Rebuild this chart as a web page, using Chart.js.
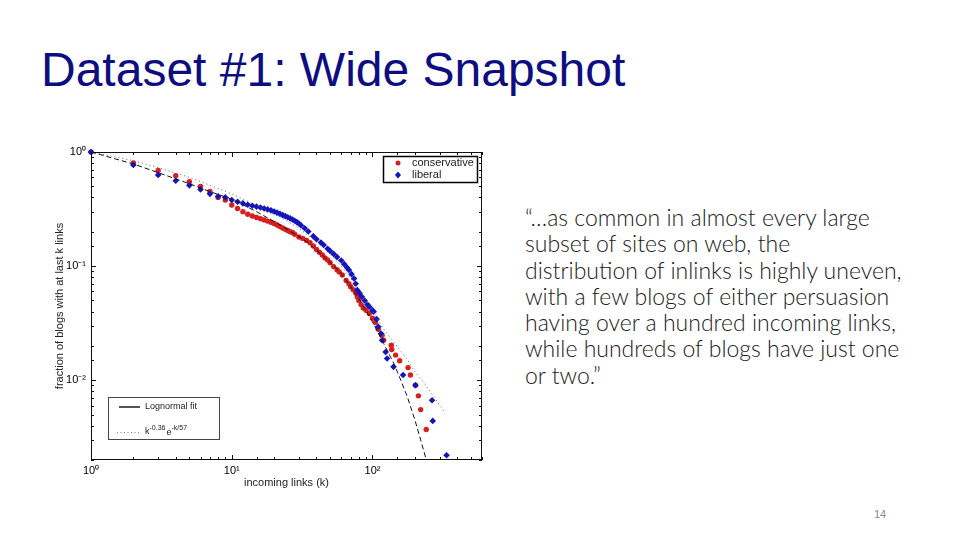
<!DOCTYPE html>
<html>
<head>
<meta charset="utf-8">
<script src="https://cdn.jsdelivr.net/npm/chart.js@4.4.0/dist/chart.umd.min.js"></script>
<style>
  body { margin: 0; background: #fff; }
  .slide { position: relative; width: 960px; height: 540px; overflow: hidden; }
  .title {
    position: absolute; left: 41px; top: 46px;
    font: 48px/48px "Liberation Sans", Arial, sans-serif;
    color: #0e0e80; white-space: nowrap;
  }
  .quote {
    position: absolute; left: 525px; top: 204px;
    font: 300 23px/26.3px Lato, "Open Sans", sans-serif;
    color: #1a1a1a; white-space: nowrap;
  }
  .page {
    position: absolute; left: 874px; top: 508px;
    font: 11px "Liberation Sans", Arial, sans-serif; color: #8a8a8a;
  }
  #chart { position: absolute; left: 40px; top: 130px; }
</style>
</head>
<body>
<div class="slide">
  <div class="title">Dataset #1: Wide Snapshot</div>
  <canvas id="chart" width="450" height="370"></canvas>
  <div class="quote">“…as common in almost every large<br>subset of sites on web, the<br>distribution of inlinks is highly uneven,<br>with a few blogs of either persuasion<br>having over a hundred incoming links,<br>while hundreds of blogs have just one<br>or two.”</div>
  <div class="page">14</div>
</div>
<script>
// incoming links k vs fraction of blogs with at least k links
const kCons = [1,2,3,4,5,6,7,8,9,10,11,12,13,14,15,16,17,18,19,20,21,22,23,24,25,26,27,28,
  30,32,34,36,38,40,42,44,46,48,50,53,56,58,61,65,68,70,73,76,78,80,83,86,90,95,100,105,110,
  117,120,136,137,146,156,179,186,202,212,220,241];
const yCons = [1,0.80,0.69,0.62,0.55,0.50,0.45,0.40,0.38,0.343,0.32,0.30,0.285,0.275,0.267,0.26,0.254,0.248,0.242,0.236,
  0.229,0.222,0.216,0.21,0.205,0.20,0.197,0.19,
  0.18,0.175,0.168,0.16,0.15,0.14,0.132,0.125,0.118,0.113,0.107,0.099,0.093,0.089,0.0836,0.075,0.07,0.066,0.062,0.058,
  0.054,0.05,0.046,0.043,0.041,0.0385,0.035,0.032,0.028,
  0.0248,0.0224,0.0203,0.0186,0.0166,0.0148,0.0129,0.0111,0.00904,0.0073,0.00553,0.0037];

const kLib = [1,2,3,4,5,6,7,8,9,10,11,12,13,14,15,16,17,18,19,20,21,22,23,24,25,26,27,28,29,30,31,
  33,35,38,40,43,45,48,50,53,56,60,63,66,68,71,74,76,78,81,84,88,92,95,100,102,
  107,110,115,117,124,127,141,165,202,265,268,336];
const yLib = [1,0.77,0.63,0.56,0.51,0.47,0.43,0.41,0.40,0.38,0.367,0.355,0.345,0.338,0.332,0.326,0.32,0.314,0.308,0.301,
  0.294,0.287,0.28,0.274,0.268,0.262,0.256,0.25,0.243,0.236,0.228,
  0.215,0.201,0.183,0.172,0.161,0.153,0.142,0.136,0.128,0.12,0.112,0.104,0.097,0.0925,0.085,0.078,0.07,0.0617,0.058,
  0.054,0.05,0.046,0.044,0.041,0.0398,
  0.0343,0.0294,0.0257,0.0224,0.0177,0.0155,0.0131,0.0111,0.00904,0.00668,0.0044,0.0022];

const kLogn = [1,2,3,5,7,10,15,22,34,45,60,80,100,120,142,160,177,200,220,240];
const yLogn = [1,0.785,0.66,0.527,0.45,0.386,0.30,0.23,0.164,0.122,0.0865,0.052,0.0325,0.021,0.014,0.0098,0.00714,0.0045,0.003,0.00205];

const kPow = [1,2,3,5,8,10,15,22,30,45,60,80,100,117,178,197,233,324];
const yPow = [1,0.84,0.73,0.60,0.48,0.43,0.34,0.27,0.215,0.145,0.1,0.063,0.041,0.0294,0.015,0.0122,0.0094,0.0053];

const red = "#d91e1e";
const blue = "#1414bd";
const font = '"Liberation Sans", Arial, sans-serif';

function pts(xs, ys) {
  return xs.map((x, i) => ({ x: x, y: ys[i] }));
}

const sup = { "-": "⁻", "0": "⁰", "1": "¹", "2": "²", "3": "³" };
function decade(v) {
  const l = Math.log10(v);
  return Math.abs(l - Math.round(l)) < 1e-6 ? Math.round(l) : null;
}
function powLabel(v) {
  const d = decade(v);
  if (d === null) return "";
  return "10" + String(d).split("").map(c => sup[c]).join("");
}

// box, inside tick marks and the two legends
const frame = {
  id: "frame",
  afterDatasetsDraw(chart) {
    const { ctx, chartArea: a, scales } = chart;
    const x = scales.x, y = scales.y;
    ctx.save();
    ctx.strokeStyle = "#111";
    ctx.lineWidth = 1;
    ctx.strokeRect(a.left + 0.5, a.top + 0.5, a.right - a.left - 1, a.bottom - a.top - 1);

    ctx.beginPath();
    x.ticks.forEach(t => {
      const px = Math.round(x.getPixelForValue(t.value)) + 0.5;
      const len = decade(t.value) !== null ? 5 : 3;
      ctx.moveTo(px, a.bottom); ctx.lineTo(px, a.bottom - len);
      ctx.moveTo(px, a.top); ctx.lineTo(px, a.top + len);
    });
    y.ticks.forEach(t => {
      const py = Math.round(y.getPixelForValue(t.value)) + 0.5;
      const len = decade(t.value) !== null ? 5 : 3;
      ctx.moveTo(a.left, py); ctx.lineTo(a.left + len, py);
      ctx.moveTo(a.right, py); ctx.lineTo(a.right - len, py);
    });
    ctx.stroke();

    // series legend, top right
    let bx = a.right - 99, by = a.top + 4;
    ctx.fillStyle = "#fff";
    ctx.fillRect(bx, by, 94, 26);
    ctx.strokeStyle = "#000";
    ctx.lineWidth = 1.5;
    ctx.strokeRect(bx + 0.5, by + 0.5, 94, 26);
    ctx.fillStyle = red;
    ctx.beginPath(); ctx.arc(bx + 15, by + 7, 2.5, 0, Math.PI * 2); ctx.fill();
    ctx.fillStyle = blue;
    ctx.beginPath();
    ctx.moveTo(bx + 15, by + 15.5); ctx.lineTo(bx + 18, by + 19);
    ctx.lineTo(bx + 15, by + 22.5); ctx.lineTo(bx + 12, by + 19);
    ctx.closePath(); ctx.fill();
    ctx.fillStyle = "#222";
    ctx.font = "11px " + font;
    ctx.textBaseline = "middle";
    ctx.fillText("conservative", bx + 29, by + 7);
    ctx.fillText("liberal", bx + 29, by + 19);

    // fit legend, bottom left
    bx = a.left + 17; by = a.bottom - 63;
    ctx.fillStyle = "#fff";
    ctx.fillRect(bx, by, 111, 42);
    ctx.strokeStyle = "#444";
    ctx.lineWidth = 1;
    ctx.strokeRect(bx + 0.5, by + 0.5, 111, 42);
    ctx.strokeStyle = "#555";
    ctx.lineWidth = 2;
    ctx.beginPath(); ctx.moveTo(bx + 11, by + 10); ctx.lineTo(bx + 32, by + 10); ctx.stroke();
    ctx.strokeStyle = "#777";
    ctx.lineWidth = 1;
    ctx.setLineDash([1, 2.5]);
    ctx.beginPath(); ctx.moveTo(bx + 9, by + 35.5); ctx.lineTo(bx + 32, by + 35.5); ctx.stroke();
    ctx.setLineDash([]);
    ctx.fillStyle = "#222";
    ctx.font = "9px " + font;
    ctx.fillText("Lognormal fit", bx + 37, by + 10);
    let tx = bx + 37;
    ctx.fillText("k", tx, by + 35);
    tx += ctx.measureText("k").width;
    ctx.font = "7px " + font;
    ctx.fillText("-0.36", tx, by + 31);
    tx += ctx.measureText("-0.36").width + 1;
    ctx.font = "9px " + font;
    ctx.fillText("e", tx, by + 36);
    tx += ctx.measureText("e").width;
    ctx.font = "7px " + font;
    ctx.fillText("-k/57", tx, by + 31);
    ctx.restore();
  }
};

new Chart(document.getElementById("chart").getContext("2d"), {
  type: "scatter",
  data: {
    datasets: [
      {
        label: "Lognormal fit",
        data: pts(kLogn, yLogn),
        showLine: true,
        borderColor: "#111",
        borderWidth: 1,
        borderDash: [5, 3],
        pointRadius: 0,
        order: 0,
      },
      {
        label: "k^-0.36 e^-k/57",
        data: pts(kPow, yPow),
        showLine: true,
        borderColor: "#666",
        borderWidth: 1,
        borderDash: [1, 3],
        pointRadius: 0,
        order: 0,
      },
      {
        label: "liberal",
        data: pts(kLib, yLib),
        pointStyle: "rectRot",
        pointRadius: 3.3,
        backgroundColor: blue,
        borderColor: blue,
        borderWidth: 0,
        clip: false,
        order: 1,
      },
      {
        label: "conservative",
        data: pts(kCons, yCons),
        pointStyle: "circle",
        pointRadius: 2.7,
        backgroundColor: red,
        borderColor: red,
        borderWidth: 0,
        clip: false,
        order: 2,
      },
    ],
  },
  options: {
    responsive: false,
    animation: false,
    devicePixelRatio: 1,
    layout: { padding: { top: 22, right: 8, left: 0, bottom: 0 } },
    plugins: {
      legend: { display: false },
      tooltip: { enabled: false },
    },
    scales: {
      x: {
        type: "logarithmic",
        min: 1,
        max: 600,
        grid: { display: false, drawTicks: false },
        border: { display: false },
        ticks: {
          autoSkip: false,
          maxRotation: 0,
          padding: 4,
          color: "#000",
          font: { family: font, size: 11 },
          callback: v => powLabel(v),
        },
        title: {
          display: true,
          text: "incoming links (k)",
          color: "#222",
          font: { family: font, size: 11 },
          padding: { top: 0, bottom: 10 },
        },
        afterFit: s => { s.height = 40; },
      },
      y: {
        type: "logarithmic",
        min: 0.002,
        max: 1,
        grid: { display: false, drawTicks: false },
        border: { display: false },
        ticks: {
          autoSkip: false,
          padding: 5,
          color: "#000",
          font: { family: font, size: 11 },
          callback: v => powLabel(v),
        },
        title: {
          display: true,
          text: "fraction of blogs with at last k links",
          color: "#222",
          font: { family: font, size: 11 },
          padding: { top: 13, bottom: 0 },
        },
        afterFit: s => { s.width = 51; },
      },
    },
  },
  plugins: [frame],
});
</script>
</body>
</html>
